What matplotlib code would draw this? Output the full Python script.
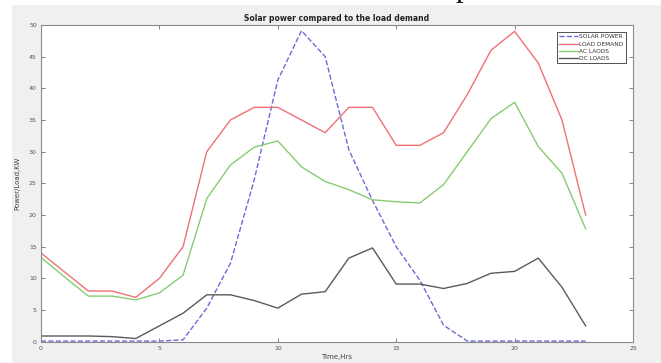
import matplotlib
matplotlib.use('Agg')
import matplotlib.pyplot as plt
from matplotlib.patches import Rectangle

hours = list(range(24))

solar_power = [0.1, 0.1, 0.1, 0.1, 0.1, 0.1, 0.3, 5.3, 12.4, 25.5, 41.3, 49.1,
               45.0, 30.3, 22.3, 15.0, 9.7, 2.6, 0.1, 0.1, 0.1, 0.1, 0.1, 0.1]
load_demand = [14.0, 11.0, 8.0, 8.0, 7.0, 10.0, 15.0, 30.0, 35.0, 37.0, 37.0, 35.0,
               33.0, 37.0, 37.0, 31.0, 31.0, 33.0, 39.0, 46.0, 49.0, 44.0, 35.0, 20.0]
ac_loads = [13.3, 10.2, 7.2, 7.2, 6.6, 7.7, 10.5, 22.6, 27.9, 30.7, 31.7, 27.6,
            25.3, 24.0, 22.4, 22.1, 21.9, 24.8, 30.0, 35.2, 37.8, 30.8, 26.6, 17.8]
dc_loads = [0.9, 0.9, 0.9, 0.8, 0.5, 2.5, 4.5, 7.4, 7.4, 6.5, 5.3, 7.5,
            7.9, 13.2, 14.8, 9.1, 9.1, 8.4, 9.2, 10.8, 11.1, 13.2, 8.6, 2.5]

W, H = 661, 363
fig = plt.figure(figsize=(W / 100, H / 100), dpi=100)
fig.set_facecolor('white')

# gray matlab figure background (white strip on left/top)
fig.patches.append(Rectangle((12 / W, 0), 1, (H - 5) / H, transform=fig.transFigure,
                             facecolor='#f0f0f0', edgecolor='none', zorder=-1))

# clipped glyph from the text above the screenshot
fig.text(463 / W, 1 + 4 / H, 'p', family='Liberation Serif', fontsize=22,
         color='#111111', ha='center', va='baseline')

ax = fig.add_axes([41 / W, 1 - 341.7 / H, (633 - 41) / W, (341.7 - 25) / H])
ax.set_facecolor('white')

ax.plot(hours, solar_power, '--', color='#6b6bd6', lw=1.0, label='SOLAR POWER')
ax.plot(hours, load_demand, '-', color='#ee7077', lw=1.0, label='LOAD DEMAND')
ax.plot(hours, ac_loads, '-', color='#86cc72', lw=1.0, label='AC LAODS')
ax.plot(hours, dc_loads, '-', color='#5a5a5a', lw=1.0, label='DC LOADS')

ax.set_xlim(0, 25)
ax.set_ylim(0, 50)
ax.set_xticks(range(0, 26, 5))
ax.set_yticks(range(0, 51, 5))

ax.tick_params(direction='in', top=True, right=True, length=3, width=0.6,
               colors='#707070', labelsize=4.5, labelcolor='#555555', pad=3)
for s in ax.spines.values():
    s.set_color('#8a8a8a')
    s.set_linewidth(0.8)

ax.set_title('Solar power compared to the load demand', fontsize=5.5,
             fontweight='bold', color='#222222', pad=3)
ax.set_xlabel('Time,Hrs', fontsize=5, color='#444444', labelpad=2)
ax.set_ylabel('Power/Load,KW', fontsize=5, color='#444444', labelpad=6)

leg = ax.legend(loc='upper right', fontsize=4.2, fancybox=False, framealpha=1,
                edgecolor='#333333', handlelength=3.2, handletextpad=0.3,
                labelspacing=0.35, borderpad=0.4, borderaxespad=1.2)
leg.get_frame().set_linewidth(0.6)
for t in leg.get_texts():
    t.set_color('#333333')

fig.savefig('out.png', dpi=100, facecolor=fig.get_facecolor())
